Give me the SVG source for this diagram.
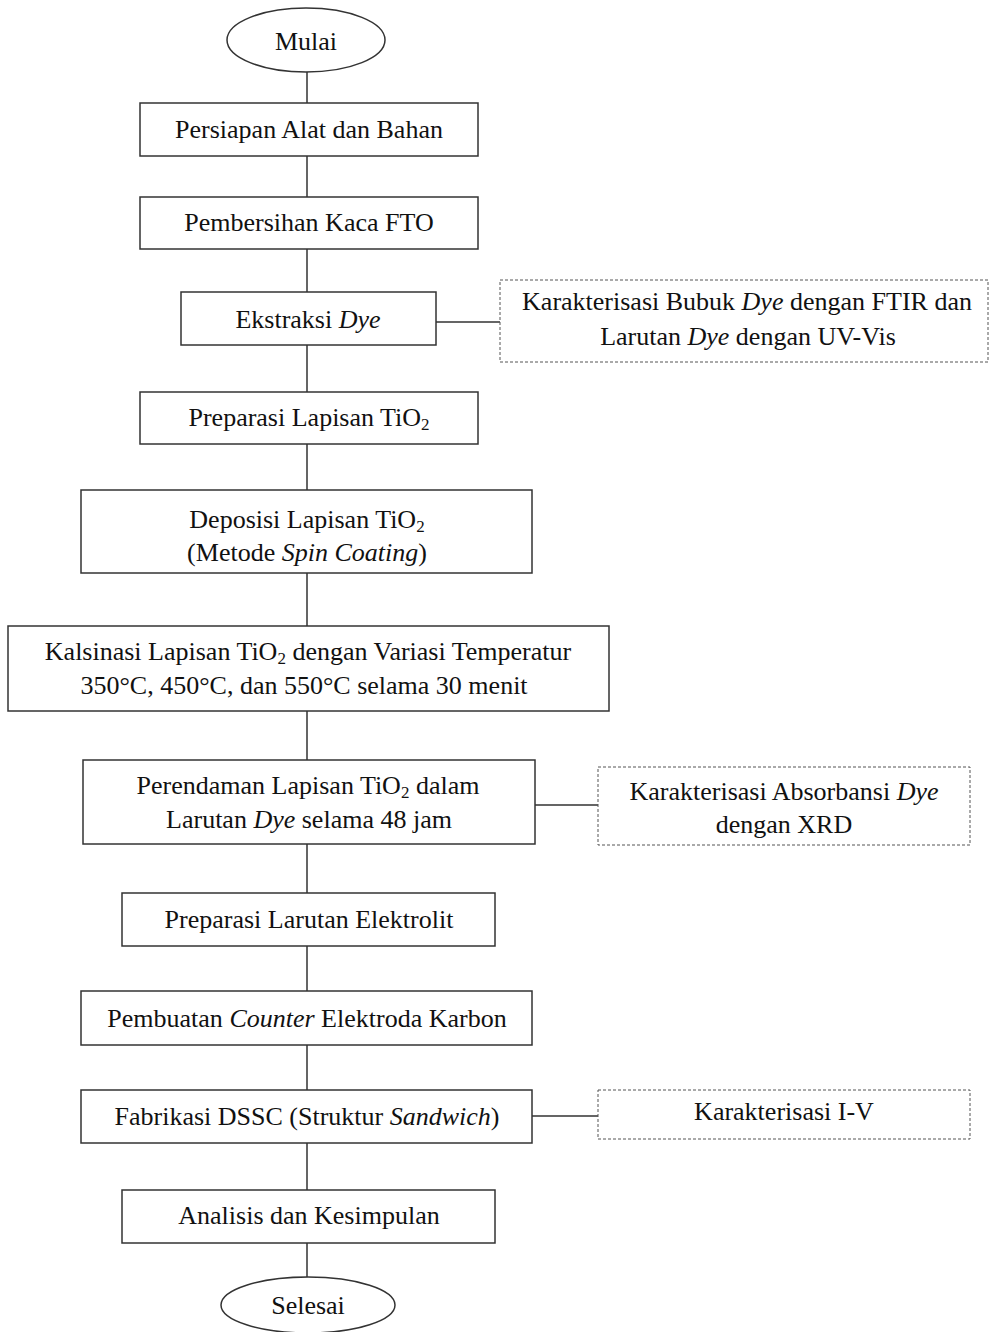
<svg xmlns="http://www.w3.org/2000/svg" width="989" height="1332" viewBox="0 0 989 1332">
<style>
.n{fill:#fff;stroke:#333;stroke-width:1.5}
.d{fill:#fff;stroke:#555;stroke-width:1;stroke-dasharray:3 2}
.c{stroke:#333;stroke-width:1.5;fill:none}
text{font-family:"Liberation Serif","Times New Roman",serif;font-size:26px;fill:#111;text-anchor:middle}
.i{font-style:italic}
.s{font-size:17px}
</style>
<rect width="989" height="1332" fill="#fff"/>
<g id="connectors">
<path class="c" d="M307 72V103M307 156V197M307 249V292M307 345V392M307 444V490M307 573V626M307 711V760M307 844V893M307 946V991M307 1045V1090M307 1143V1190M307 1243V1277"/>
<path class="c" d="M436 322H500M535 805H598M532 1116H598"/>
</g>
<g id="mulai"><ellipse class="n" cx="306" cy="40" rx="79" ry="32"/><text x="306" y="50">Mulai</text></g>
<g id="persiapan"><rect class="n" x="140" y="103" width="338" height="53"/><text x="309" y="138">Persiapan Alat dan Bahan</text></g>
<g id="pembersihan"><rect class="n" x="140" y="197" width="338" height="52"/><text x="309" y="231">Pembersihan Kaca FTO</text></g>
<g id="ekstraksi"><rect class="n" x="181" y="292" width="255" height="53"/><text x="308" y="328">Ekstraksi <tspan class="i">Dye</tspan></text></g>
<g id="kar-ftir"><rect class="d" x="500" y="280" width="488" height="82"/><text x="747" y="310">Karakterisasi Bubuk <tspan class="i">Dye</tspan> dengan FTIR dan</text><text x="748" y="345">Larutan <tspan class="i">Dye</tspan> dengan UV-Vis</text></g>
<g id="preparasi-tio2"><rect class="n" x="140" y="392" width="338" height="52"/><text x="309" y="426">Preparasi Lapisan TiO<tspan class="s" dy="4">2</tspan></text></g>
<g id="deposisi"><rect class="n" x="81" y="490" width="451" height="83"/><text x="307" y="528">Deposisi Lapisan TiO<tspan class="s" dy="4">2</tspan></text><text x="307" y="561">(Metode <tspan class="i">Spin Coating</tspan>)</text></g>
<g id="kalsinasi"><rect class="n" x="8" y="626" width="601" height="85"/><text x="308" y="660">Kalsinasi Lapisan TiO<tspan class="s" dy="4">2</tspan><tspan dy="-4"> dengan Variasi Temperatur</tspan></text><text x="304" y="694">350°C, 450°C, dan 550°C selama 30 menit</text></g>
<g id="perendaman"><rect class="n" x="83" y="760" width="452" height="84"/><text x="308" y="794">Perendaman Lapisan TiO<tspan class="s" dy="4">2</tspan><tspan dy="-4"> dalam</tspan></text><text x="309" y="828">Larutan <tspan class="i">Dye</tspan> selama 48 jam</text></g>
<g id="kar-xrd"><rect class="d" x="598" y="767" width="372" height="78"/><text x="784" y="800">Karakterisasi Absorbansi <tspan class="i">Dye</tspan></text><text x="784" y="833">dengan XRD</text></g>
<g id="preparasi-elektrolit"><rect class="n" x="122" y="893" width="373" height="53"/><text x="309" y="928">Preparasi Larutan Elektrolit</text></g>
<g id="pembuatan"><rect class="n" x="81" y="991" width="451" height="54"/><text x="307" y="1027">Pembuatan <tspan class="i">Counter</tspan> Elektroda Karbon</text></g>
<g id="fabrikasi"><rect class="n" x="81" y="1090" width="451" height="53"/><text x="307" y="1125">Fabrikasi DSSC (Struktur <tspan class="i">Sandwich</tspan>)</text></g>
<g id="kar-iv"><rect class="d" x="598" y="1090" width="372" height="49"/><text x="784" y="1120">Karakterisasi I-V</text></g>
<g id="analisis"><rect class="n" x="122" y="1190" width="373" height="53"/><text x="309" y="1224">Analisis dan Kesimpulan</text></g>
<g id="selesai"><ellipse class="n" cx="308" cy="1305" rx="87" ry="28"/><text x="308" y="1314">Selesai</text></g>
</svg>
